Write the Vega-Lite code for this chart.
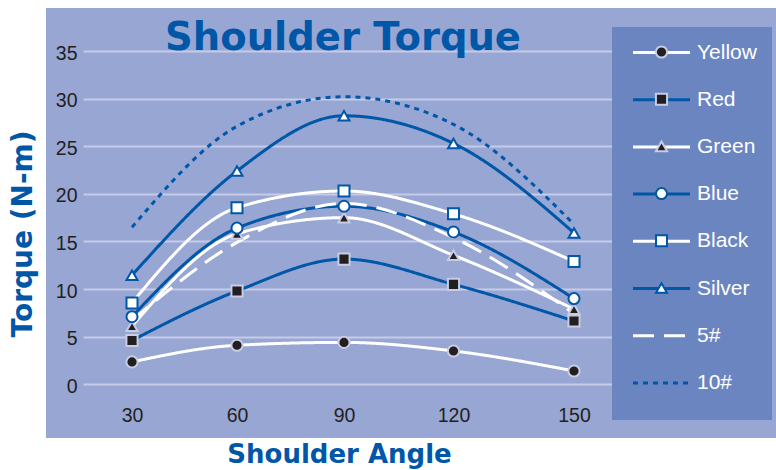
{
  "$schema": "https://vega.github.io/schema/vega-lite/v6.json",
  "width": 730,
  "height": 430,
  "autosize": {"type": "none"},
  "padding": {"left": 46, "top": 8, "right": 0, "bottom": 32},
  "background": "white",
  "config": {"font": "Liberation Sans", "view": {"fill": "#97A6D3", "stroke": null}},
  "title": {"text": "Shoulder Torque", "font": "DejaVu Sans", "fontSize": 38.5, "fontWeight": "bold", "color": "#0057A8", "anchor": "middle", "frame": "group", "offset": -80, "dx": -68, "baseline": "alphabetic"},
  "data": {"values": [
    {"series": "Yellow", "angle": 30, "torque": 2.35},
    {"series": "Yellow", "angle": 60, "torque": 4.1},
    {"series": "Yellow", "angle": 90, "torque": 4.4},
    {"series": "Yellow", "angle": 120, "torque": 3.5},
    {"series": "Yellow", "angle": 150, "torque": 1.4},
    {"series": "Red", "angle": 30, "torque": 4.6},
    {"series": "Red", "angle": 60, "torque": 9.8},
    {"series": "Red", "angle": 90, "torque": 13.15},
    {"series": "Red", "angle": 120, "torque": 10.5},
    {"series": "Red", "angle": 150, "torque": 6.65},
    {"series": "Green", "angle": 30, "torque": 6.1},
    {"series": "Green", "angle": 60, "torque": 15.8},
    {"series": "Green", "angle": 90, "torque": 17.5},
    {"series": "Green", "angle": 120, "torque": 13.55},
    {"series": "Green", "angle": 150, "torque": 7.9},
    {"series": "Blue", "angle": 30, "torque": 7.1},
    {"series": "Blue", "angle": 60, "torque": 16.4},
    {"series": "Blue", "angle": 90, "torque": 18.7},
    {"series": "Blue", "angle": 120, "torque": 16.0},
    {"series": "Blue", "angle": 150, "torque": 9.0},
    {"series": "Black", "angle": 30, "torque": 8.55},
    {"series": "Black", "angle": 60, "torque": 18.55},
    {"series": "Black", "angle": 90, "torque": 20.3},
    {"series": "Black", "angle": 120, "torque": 17.9},
    {"series": "Black", "angle": 150, "torque": 12.9},
    {"series": "Silver", "angle": 30, "torque": 11.45},
    {"series": "Silver", "angle": 60, "torque": 22.4},
    {"series": "Silver", "angle": 90, "torque": 28.2},
    {"series": "Silver", "angle": 120, "torque": 25.3},
    {"series": "Silver", "angle": 150, "torque": 15.9},
    {"series": "5#", "angle": 30, "torque": 6.7},
    {"series": "5#", "angle": 60, "torque": 14.9},
    {"series": "5#", "angle": 90, "torque": 19.0},
    {"series": "5#", "angle": 120, "torque": 15.4},
    {"series": "5#", "angle": 150, "torque": 7.4},
    {"series": "10#", "angle": 30, "torque": 16.5},
    {"series": "10#", "angle": 60, "torque": 27.1},
    {"series": "10#", "angle": 90, "torque": 30.2},
    {"series": "10#", "angle": 120, "torque": 27.3},
    {"series": "10#", "angle": 150, "torque": 16.8}
  ]},
  "encoding": {
    "x": {"field": "angle", "type": "quantitative",
      "scale": {"domain": [30, 60, 90, 120, 150], "range": [86, 191, 298, 407.5, 528], "zero": false, "nice": false},
      "axis": {"values": [30, 60, 90, 120, 150], "domain": false, "ticks": false, "grid": false, "labelPadding": -17, "labelBaseline": "alphabetic", "labelFontSize": 19.5, "labelColor": "#231F20", "labelFlush": false, "title": "Shoulder Angle", "titleFont": "DejaVu Sans", "titleFontSize": 26, "titleFontWeight": "bold", "titleColor": "#0057A8", "titleX": 293, "titleY": 24, "titleBaseline": "alphabetic", "titleAlign": "center"}},
    "y": {"field": "torque", "type": "quantitative",
      "scale": {"domain": [-5.64, 39.52], "zero": false, "nice": false},
      "axis": {"values": [0, 5, 10, 15, 20, 25, 30, 35], "domain": false, "grid": false, "ticks": true, "tickSize": -529, "tickWidth": 2, "tickColor": "#C6CCE7", "offset": -37, "labelPadding": 535, "labelFontSize": 19.5, "labelColor": "#231F20", "labelOffset": 2, "title": "Torque (N-m)", "titleFont": "DejaVu Sans", "titleFontSize": 28, "titleFontWeight": "bold", "titleColor": "#0057A8", "titlePadding": 18, "titleY": 225.5}}
  },
  "layer": [
    {
      "mark": {"type": "line", "interpolate": "monotone", "strokeWidth": 3, "strokeCap": "butt"},
      "encoding": {
        "color": {"field": "series", "type": "nominal",
          "scale": {"domain": ["Yellow", "Red", "Green", "Blue", "Black", "Silver", "5#", "10#"], "range": ["#FFFFFF", "#0057A8", "#FFFFFF", "#0057A8", "#FFFFFF", "#0057A8", "#FFFFFF", "#0057A8"]},
          "legend": {"orient": "none", "legendX": 566, "legendY": 19, "fillColor": "#6B85C1", "padding": 15, "strokeColor": null, "symbolType": "M-4.75,0H4.75", "symbolSize": 144, "symbolStrokeWidth": 3, "symbolOffset": 24, "labelOffset": 25, "labelFont": "Liberation Sans", "labelFontSize": 21, "labelColor": "#FFFFFF", "rowPadding": 25.2, "title": " ", "titleOrient": "bottom", "titleFontSize": 8, "titlePadding": 4}},
        "strokeDash": {"field": "series", "type": "nominal",
          "scale": {"domain": ["Yellow", "Red", "Green", "Blue", "Black", "Silver", "5#", "10#"], "range": [[1, 0], [1, 0], [1, 0], [1, 0], [1, 0], [1, 0], [21, 10], [5, 5]]}}
      }
    },
    {
      "transform": [{"filter": {"field": "series", "oneOf": ["Yellow", "Red", "Green", "Blue", "Black", "Silver"]}}],
      "mark": {"type": "point", "filled": true, "strokeWidth": 2, "opacity": 1},
      "encoding": {
        "fill": {"field": "series", "type": "nominal",
          "scale": {"domain": ["Yellow", "Red", "Green", "Blue", "Black", "Silver"], "range": ["#231F20", "#231F20", "#231F20", "#FFFFFF", "#FFFFFF", "#FFFFFF"]},
          "legend": {"orient": "none", "legendX": 581, "legendY": 33.5, "padding": 0, "fillColor": null, "strokeColor": null, "symbolStrokeWidth": 2, "symbolOffset": 24, "symbolOpacity": 1, "labelOffset": 25, "labelFont": "Liberation Sans", "labelFontSize": 21, "labelColor": "transparent", "rowPadding": 25.2, "title": null}},
        "stroke": {"field": "series", "type": "nominal",
          "scale": {"domain": ["Yellow", "Red", "Green", "Blue", "Black", "Silver"], "range": ["#C9CDE3", "#C9CDE3", "#C9CDE3", "#0057A8", "#0057A8", "#0057A8"]}},
        "shape": {"field": "series", "type": "nominal",
          "scale": {"domain": ["Yellow", "Red", "Green", "Blue", "Black", "Silver"], "range": ["circle", "square", "triangle-up", "circle", "square", "triangle-up"]}},
        "size": {"field": "series", "type": "nominal",
          "scale": {"domain": ["Yellow", "Red", "Green", "Blue", "Black", "Silver"], "range": [125, 120, 180, 135, 125, 190]}}
      }
    }
  ]
}
